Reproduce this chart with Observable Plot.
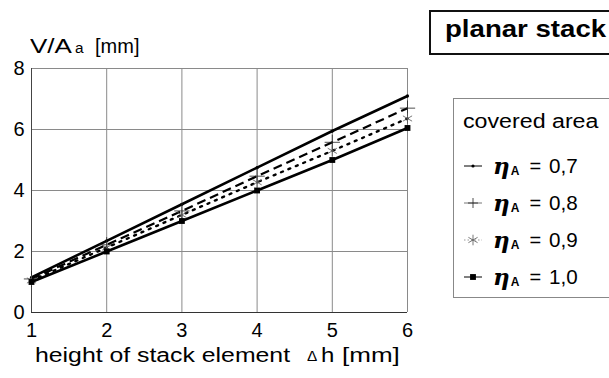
<!DOCTYPE html>
<html>
<head>
<meta charset="utf-8">
<script src="https://cdn.jsdelivr.net/npm/d3@7"></script>
<script src="https://cdn.jsdelivr.net/npm/@observablehq/plot@0.6"></script>
<style>
  html, body { margin: 0; padding: 0; background: #fff; }
  #wrap { position: relative; width: 609px; height: 378px; overflow: hidden; font-family: "Liberation Sans", Arial, sans-serif; color: #000; }
  #wrap svg.plot { position: absolute; left: 0; top: 0; }
  .abs { position: absolute; white-space: nowrap; line-height: 1; transform-origin: 0 0; }
  #title { left: 429px; top: 10px; width: 200px; height: 45px; border: 2px solid #111; box-sizing: border-box; }
  #title span { position: absolute; left: 14px; top: 6px; font-size: 23px; font-weight: bold; transform: scaleX(1.2); transform-origin: 0 0; white-space: nowrap; line-height: 1; }
  #legend { left: 453px; top: 98px; width: 200px; height: 200px; border: 1px solid #888; box-sizing: border-box; }
  .row { position: absolute; left: 9px; font-size: 20px; display: flex; align-items: center; line-height: 1; white-space: nowrap; }
  .hdr { transform: scaleX(1.16); transform-origin: 0 0; }
  .eta { font-family: "DejaVu Serif", serif; font-style: italic; font-weight: bold; font-size: 23px; }
  .sub { font-size: 12px; font-weight: bold; position: relative; top: 5px; margin-left: 1px; margin-right: 10px; }
</style>
</head>
<body>
<div id="wrap"></div>
<script>
// Data
const heights = [1, 2, 3, 4, 5, 6];
const eta07 = [1.15, 2.35, 3.55, 4.75, 5.95, 7.1];
const eta08 = [1.1, 2.22, 3.33, 4.47, 5.58, 6.7];
const eta09 = [1.05, 2.13, 3.2, 4.27, 5.3, 6.36];
const eta10 = [1.0, 2.0, 3.0, 4.0, 5.0, 6.05];
const seriesNames = ["0,7", "0,8", "0,9", "1,0"];
const xTicks = [1, 2, 3, 4, 5, 6];
const yTicks = [0, 2, 4, 6, 8];

const styles = {
  "0,7": {dash: null, width: 2.6, symbol: "circle", r: 1.6, fill: "#000", stroke: "none", sw: 1},
  "0,8": {dash: "9,5", width: 2.2, symbol: "plus", r: 5, fill: "none", stroke: "#222", sw: 0.8},
  "0,9": {dash: "2,6", width: 2.4, symbol: "asterisk", r: 5, fill: "none", stroke: "#555", sw: 0.8},
  "1,0": {dash: null, width: 2.6, symbol: "square", r: 3.3, fill: "#000", stroke: "none", sw: 1}
};

const allSeries = [eta07, eta08, eta09, eta10];
const table = [];
allSeries.forEach((vals, i) => vals.forEach((v, j) => table.push({name: seriesNames[i], x: heights[j], y: v})));

const marks = [
  Plot.ruleX(xTicks, {stroke: "#8a8a8a", strokeWidth: 1}),
  Plot.ruleY(yTicks, {stroke: "#8a8a8a", strokeWidth: 1}),
  Plot.ruleX([xTicks[0]], {stroke: "#444", strokeWidth: 1}),
  Plot.ruleY([yTicks[0]], {stroke: "#333", strokeWidth: 1.2})
];
for (const name of seriesNames) {
  const s = styles[name];
  const d = table.filter(r => r.name === name);
  marks.push(Plot.line(d, {x: "x", y: "y", stroke: "#000", strokeWidth: s.width, strokeDasharray: s.dash, strokeLinecap: name === "0,9" ? "round" : "butt"}));
  marks.push(Plot.dot(d, {x: "x", y: "y", symbol: () => s.symbol, r: s.r, fill: s.fill, stroke: s.stroke, strokeWidth: s.sw}));
}

const chart = Plot.plot({
  width: 609,
  height: 378,
  marginLeft: 31,
  marginRight: 202,
  marginTop: 68,
  marginBottom: 66,
  style: {fontFamily: "'Liberation Sans', Arial, sans-serif", fontSize: "20px", color: "#000", background: "transparent"},
  x: {domain: [1, 6], ticks: xTicks, tickSize: 0, tickPadding: 10, label: null, tickFormat: d => String(d)},
  y: {domain: [0, 8], ticks: yTicks, tickSize: 0, tickPadding: 7, label: null, tickFormat: d => String(d)},
  symbol: {type: "identity"},
  marks
});
chart.classList.add("plot");
const wrap = document.getElementById("wrap");
wrap.appendChild(chart);

function addText(html, left, top, size, scale) {
  const el = document.createElement("div");
  el.className = "abs";
  el.style.left = left + "px";
  el.style.top = top + "px";
  el.style.fontSize = size + "px";
  if (scale) el.style.transform = `scaleX(${scale})`;
  el.innerHTML = html;
  wrap.appendChild(el);
  return el;
}

// y-axis title
addText("V/A", 30, 36, 20, 1.3);
addText("a", 75, 41, 14, 1.1);
addText("[mm]", 95, 36, 20, 1.0);

// x-axis title
addText("height of stack element", 35, 345, 20, 1.24);
addText("Δ", 307, 349, 14, 1.1);
addText("h", 321, 345, 20, 1.2);
addText("[mm]", 342, 345, 20, 1.3);

// Title box
const title = document.createElement("div");
title.className = "abs";
title.id = "title";
title.innerHTML = "<span>planar stack</span>";
wrap.appendChild(title);

// Legend
const legend = document.createElement("div");
legend.className = "abs";
legend.id = "legend";
const head = document.createElement("div");
head.className = "row hdr";
head.style.top = "12px";
head.textContent = "covered area";
legend.appendChild(head);

function symbolPath(name, r) {
  const sym = {circle: d3.symbolCircle, plus: d3.symbolCross, asterisk: d3.symbolAsterisk, square: d3.symbolSquare}[name];
  return d3.symbol(sym, Math.PI * r * r)();
}
seriesNames.forEach((name, i) => {
  const s = styles[name];
  const row = document.createElement("div");
  row.className = "row";
  row.style.top = (55 + i * 37) + "px";
  let p;
  if (name === "0,8") p = `<path d="M${-s.r},0H${s.r}M0,${-s.r}V${s.r}" stroke="${s.stroke}" stroke-width="0.8" fill="none"/>`;
  else p = `<path d="${symbolPath(s.symbol, s.r)}" fill="${s.fill}" stroke="${s.stroke}" stroke-width="${s.sw}"/>`;
  const lineColor = name === "0,9" ? "#999" : (name === "0,8" ? "#777" : "#000");
  const lineDash = name === "0,9" ? ' stroke-dasharray="1.5,2"' : "";
  row.innerHTML = `<svg width="20" height="16" style="margin-right:10px"><g transform="translate(10,8)"><line x1="-9" x2="9" y1="0" y2="0" stroke="${lineColor}" stroke-width="1"${lineDash}/>${p}</g></svg>` +
    `<span class="eta">η</span><span class="sub">A</span><span style="margin-right:8px">=</span><span style="display:inline-block;transform:scaleX(1.03);transform-origin:0 0">${name}</span>`;
  legend.appendChild(row);
});
wrap.appendChild(legend);
</script>
</body>
</html>
